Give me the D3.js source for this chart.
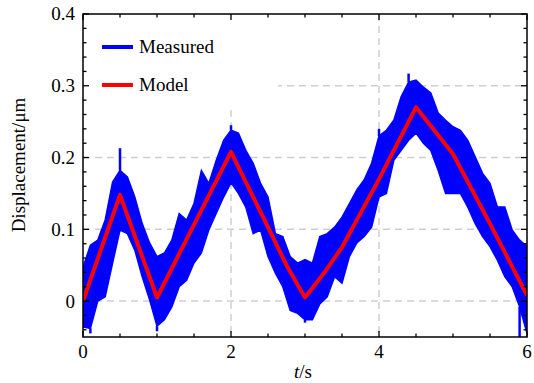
<!DOCTYPE html>
<html>
<head>
<meta charset="utf-8">
<script src="https://cdn.jsdelivr.net/npm/d3@7"></script>
<style>
  html, body { margin: 0; padding: 0; background: #fff; }
  svg { display: block; font-family: "Liberation Serif", "DejaVu Serif", serif; }
</style>
</head>
<body>
<svg id="chart" width="534" height="383"></svg>
<script>
// model (red) breakpoints
const modelT = [0, 0.5, 1.0, 2.0, 2.5, 2.75, 3.0, 3.27, 3.5, 4.0, 4.5, 5.0, 5.5, 6.0];
const modelV = [0, 0.148, 0.005, 0.208, 0.103, 0.05, 0.005, 0.041, 0.075, 0.17, 0.27, 0.205, 0.108, 0.008];

// measured (blue) envelope, read every 0.1 s
const measT = [
  0.0, 0.1, 0.2, 0.3, 0.4, 0.5, 0.6, 0.7, 0.8, 0.9,
  1.0, 1.1, 1.2, 1.3, 1.4, 1.5, 1.6, 1.7, 1.8, 1.9,
  2.0, 2.1, 2.2, 2.3, 2.4, 2.5, 2.6, 2.7, 2.8, 2.9,
  3.0, 3.1, 3.2, 3.3, 3.4, 3.5, 3.6, 3.7, 3.8, 3.9,
  4.0, 4.1, 4.2, 4.3, 4.4, 4.5, 4.6, 4.7, 4.8, 4.9,
  5.0, 5.1, 5.2, 5.3, 5.4, 5.5, 5.6, 5.7, 5.8, 5.9, 6.0
];
const measHi = [
  0.047, 0.078, 0.085, 0.113, 0.166, 0.182, 0.173, 0.145, 0.108, 0.081,
  0.062, 0.067, 0.085, 0.122, 0.113, 0.136, 0.182, 0.164, 0.196, 0.224,
  0.238, 0.234, 0.210, 0.192, 0.164, 0.145, 0.094, 0.090, 0.062, 0.053,
  0.058, 0.053, 0.090, 0.094, 0.103, 0.117, 0.136, 0.155, 0.169, 0.192,
  0.230, 0.238, 0.252, 0.285, 0.305, 0.308, 0.298, 0.290, 0.262, 0.252,
  0.243, 0.238, 0.224, 0.201, 0.178, 0.164, 0.131, 0.131, 0.099, 0.085, 0.076
];
const measLo = [
  -0.036, -0.038, 0.000, 0.006, 0.053, 0.099, 0.094, 0.071, 0.034, 0.002,
  -0.035, -0.026, -0.008, 0.020, 0.029, 0.053, 0.067, 0.099, 0.122, 0.145,
  0.165, 0.150, 0.131, 0.094, 0.099, 0.062, 0.039, 0.020, -0.013, -0.017,
  -0.026, -0.026, -0.004, 0.006, 0.034, 0.025, 0.062, 0.081, 0.090, 0.103,
  0.145, 0.150, 0.196, 0.210, 0.224, 0.234, 0.220, 0.210, 0.182, 0.150,
  0.150, 0.150, 0.131, 0.108, 0.090, 0.076, 0.057, 0.034, 0.020, -0.008, -0.045
];
// isolated spikes of the measured signal
const spikeT = [0.5, 0.1, 1.0, 2.0, 3.0, 4.0, 4.4, 5.9];
const spikeV = [0.213, -0.045, -0.042, 0.245, -0.03, 0.24, 0.317, -0.05];

const xTicks = [0, 2, 4, 6];
const yTicks = [0, 0.1, 0.2, 0.3, 0.4];
const seriesNames = ['Measured', 'Model'];
const seriesColors = ['#0000ff', '#ff0000'];

const svg = d3.select('#chart');
const plotLeft = 83, plotRight = 527, plotTop = 14, plotBottom = 337;

const x = d3.scaleLinear().domain([0, 6]).range([plotLeft, plotRight]);
const y = d3.scaleLinear().domain([-0.05, 0.4]).range([plotBottom, plotTop]);

// grid
const grid = svg.append('g')
  .attr('stroke', '#cfcfcf')
  .attr('stroke-width', 1.5)
  .attr('stroke-dasharray', '7,5');
yTicks.filter(v => v < 0.4).forEach(v => {
  grid.append('line').attr('x1', plotLeft).attr('x2', plotRight).attr('y1', y(v)).attr('y2', y(v));
});
xTicks.filter(v => v > 0 && v < 6).forEach(v => {
  grid.append('line').attr('x1', x(v)).attr('x2', x(v)).attr('y1', plotTop).attr('y2', plotBottom);
});

// legend backdrop hides grid behind it
svg.append('rect')
  .attr('x', plotLeft + 1).attr('y', plotTop + 1)
  .attr('width', 194).attr('height', 93)
  .attr('fill', '#fff');

svg.append('clipPath').attr('id', 'plot-clip')
  .append('rect').attr('x', plotLeft).attr('y', plotTop)
  .attr('width', plotRight - plotLeft).attr('height', plotBottom - plotTop);

const plot = svg.append('g').attr('clip-path', 'url(#plot-clip)');

// measured band
const meas = measT.map((t, i) => ({ t: t, hi: measHi[i], lo: measLo[i] }));
const area = d3.area()
  .x(d => x(d.t))
  .y0(d => y(d.lo))
  .y1(d => y(d.hi));
plot.append('path')
  .datum(meas)
  .attr('d', area)
  .attr('fill', seriesColors[0])
  .attr('stroke', seriesColors[0])
  .attr('stroke-width', 1.5)
  .attr('stroke-linejoin', 'miter');

// spikes
spikeT.forEach((t, i) => {
  const v = spikeV[i];
  const j = Math.round(t * 10);
  const base = v > meas[j].hi ? meas[j].hi : meas[j].lo;
  plot.append('line')
    .attr('x1', x(t)).attr('x2', x(t))
    .attr('y1', y(base)).attr('y2', y(v))
    .attr('stroke', seriesColors[0])
    .attr('stroke-width', 2.5);
});

// model line
const model = modelT.map((t, i) => ({ t: t, v: modelV[i] }));
plot.append('path')
  .datum(model)
  .attr('d', d3.line().x(d => x(d.t)).y(d => y(d.v)))
  .attr('fill', 'none')
  .attr('stroke', seriesColors[1])
  .attr('stroke-width', 4)
  .attr('stroke-linejoin', 'round');

// frame
svg.append('rect')
  .attr('x', plotLeft).attr('y', plotTop)
  .attr('width', plotRight - plotLeft).attr('height', plotBottom - plotTop)
  .attr('fill', 'none')
  .attr('stroke', '#000')
  .attr('stroke-width', 1.5);

// ticks (inward on all four sides)
const ticks = svg.append('g').attr('stroke', '#000').attr('stroke-width', 1.3);
d3.range(0, 6.01, 0.5).forEach(v => {
  const major = Math.abs(v % 2) < 1e-6;
  const len = major ? 6 : 3.5;
  ticks.append('line').attr('x1', x(v)).attr('x2', x(v)).attr('y1', plotBottom).attr('y2', plotBottom - len);
  ticks.append('line').attr('x1', x(v)).attr('x2', x(v)).attr('y1', plotTop).attr('y2', plotTop + len);
});
d3.range(-0.04, 0.401, 0.02).forEach(v => {
  const major = Math.abs(Math.round(v * 10) - v * 10) < 1e-6;
  const len = major ? 6 : 3.5;
  ticks.append('line').attr('x1', plotLeft).attr('x2', plotLeft + len).attr('y1', y(v)).attr('y2', y(v));
  ticks.append('line').attr('x1', plotRight).attr('x2', plotRight - len).attr('y1', y(v)).attr('y2', y(v));
});

// tick labels
svg.append('g').selectAll('text')
  .data(xTicks).enter().append('text')
  .attr('x', d => x(d)).attr('y', 358)
  .attr('text-anchor', 'middle')
  .attr('font-size', 19)
  .text(d => d);
svg.append('g').selectAll('text')
  .data(yTicks).enter().append('text')
  .attr('x', 75).attr('y', d => y(d))
  .attr('dy', '0.34em')
  .attr('text-anchor', 'end')
  .attr('font-size', 19)
  .text(d => d === 0 ? '0' : d.toFixed(1));

// axis titles
const xl = svg.append('text')
  .attr('x', 303).attr('y', 378)
  .attr('text-anchor', 'middle')
  .attr('font-size', 19);
xl.append('tspan').attr('font-style', 'italic').text('t');
xl.append('tspan').text('/s');

svg.append('text')
  .attr('transform', 'translate(25,165) rotate(-90)')
  .attr('text-anchor', 'middle')
  .attr('font-size', 19)
  .text('Displacement/μm');

// legend
seriesNames.forEach((name, i) => {
  const ly = 47 + i * 38;
  svg.append('line')
    .attr('x1', 102).attr('x2', 133)
    .attr('y1', ly).attr('y2', ly)
    .attr('stroke', seriesColors[i])
    .attr('stroke-width', 4);
  svg.append('text')
    .attr('x', 139).attr('y', ly)
    .attr('dy', '0.34em')
    .attr('font-size', 19)
    .text(name);
});
</script>
</body>
</html>
